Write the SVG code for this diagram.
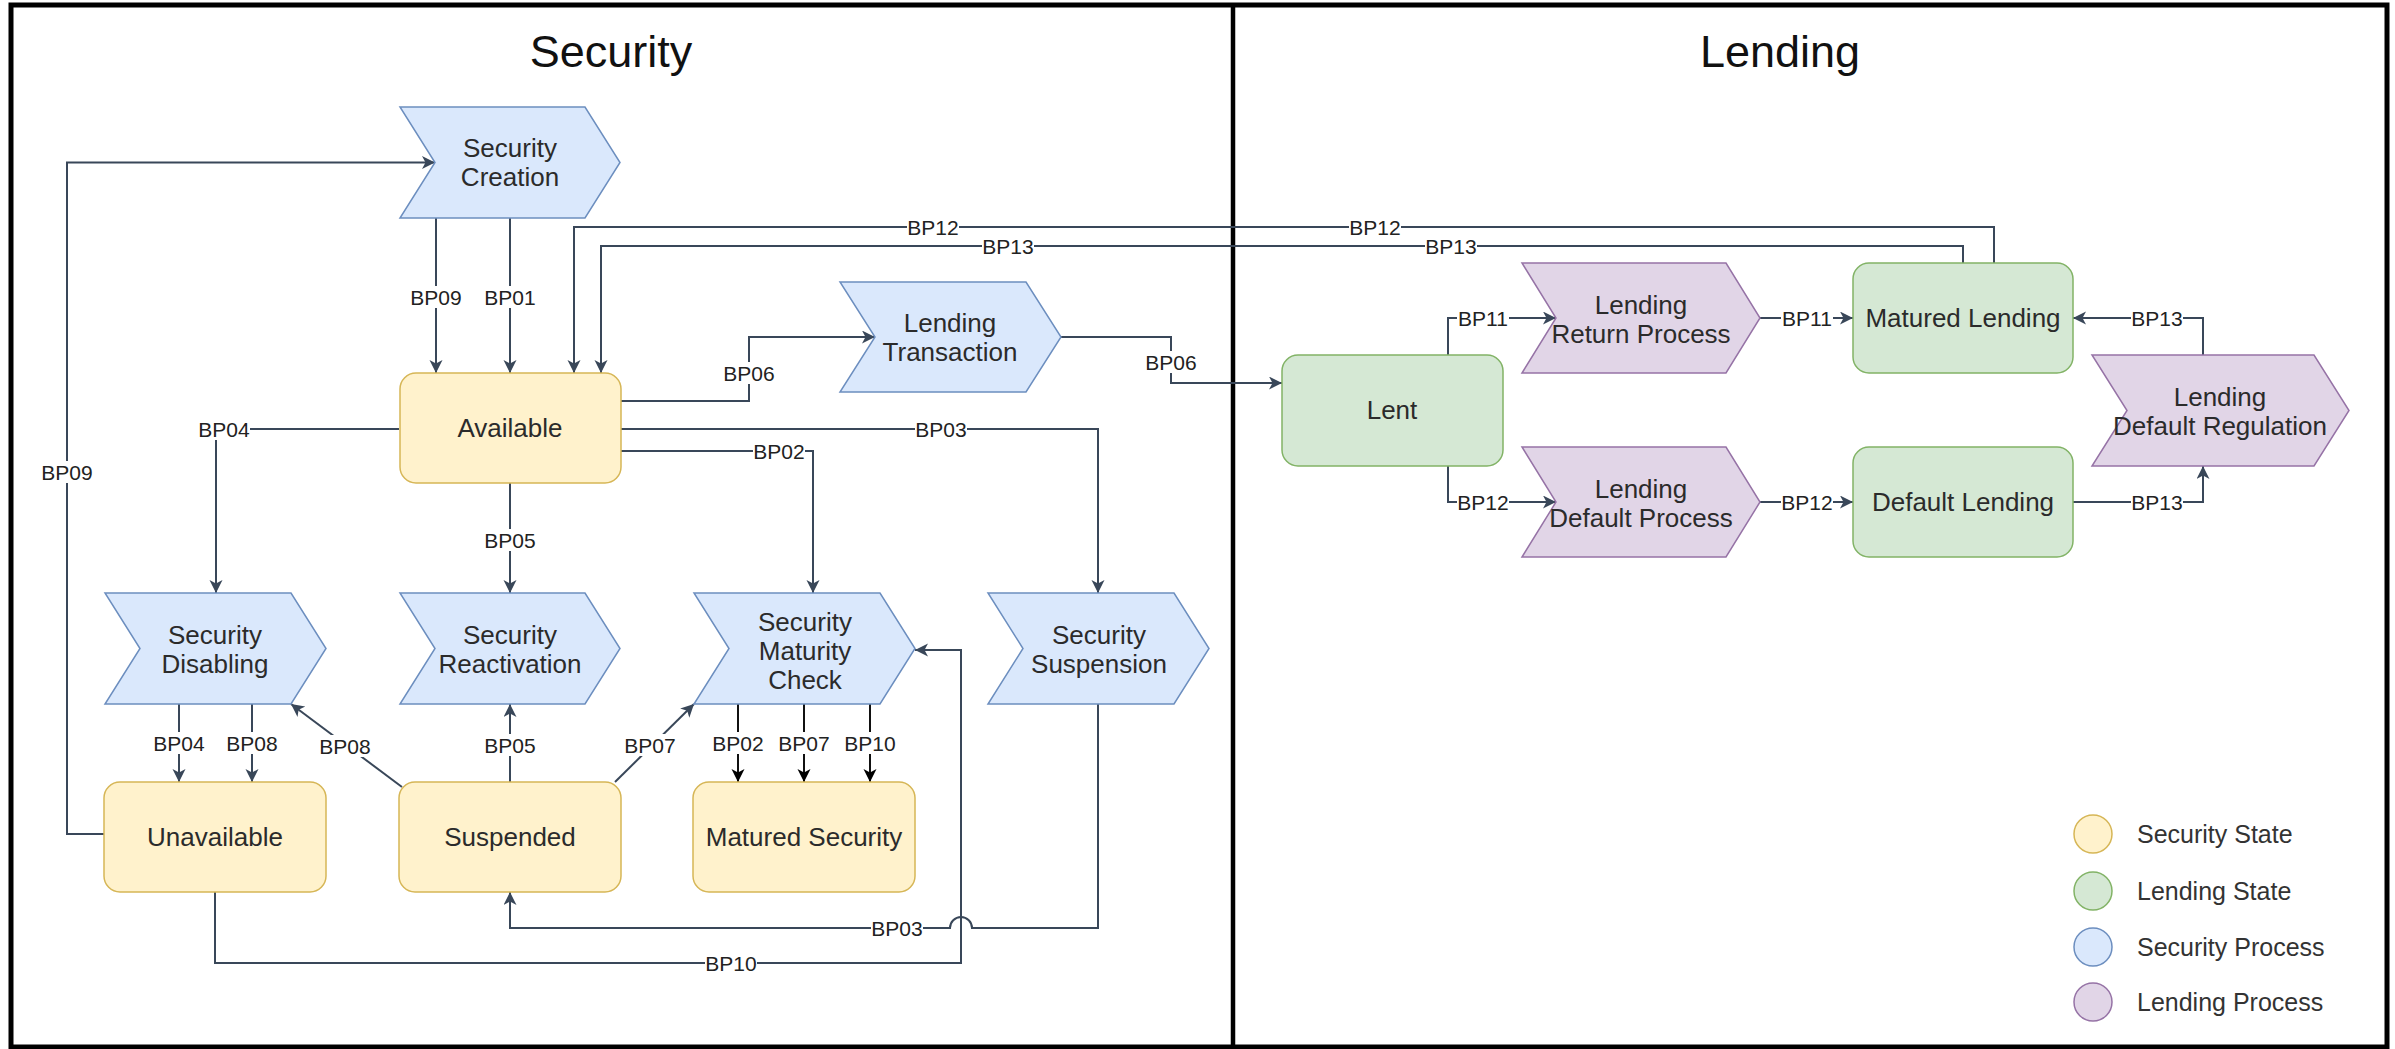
<svg xmlns="http://www.w3.org/2000/svg" width="2395" height="1049" viewBox="0 0 2395 1049">
  <defs>
    <style>
      .frame { fill: none; stroke: #000; stroke-width: 5; }
      .title { font-family: "Liberation Sans", Arial, sans-serif; font-size: 45px; fill: #111; text-anchor: middle; }
      .node-text { font-family: "Liberation Sans", Arial, sans-serif; font-size: 26px; fill: #2b2b2b; text-anchor: middle; }
      .sec-state { fill: #fff2cc; stroke: #d6b656; stroke-width: 1.5; }
      .lend-state { fill: #d5e8d4; stroke: #82b366; stroke-width: 1.5; }
      .sec-proc { fill: #dae8fc; stroke: #6c8ebf; stroke-width: 1.5; }
      .lend-proc { fill: #e1d5e7; stroke: #9673a6; stroke-width: 1.5; }
      .edge { fill: none; stroke: #394759; stroke-width: 2; marker-end: url(#arrow); }
      .edge-dark { fill: none; stroke: #111; stroke-width: 2; marker-end: url(#arrow-dark); }
      .lbg { fill: #fff; }
      .lbl { font-family: "Liberation Sans", Arial, sans-serif; font-size: 21px; fill: #222; text-anchor: middle; }
      .legend-text { font-family: "Liberation Sans", Arial, sans-serif; font-size: 25px; fill: #333; }
    </style>
    <marker id="arrow" markerUnits="userSpaceOnUse" markerWidth="14" markerHeight="14" refX="13" refY="6.5" orient="auto">
      <path d="M0,0 L13,6.5 L0,13 L3.5,6.5 Z" fill="#394759"/>
    </marker>
    <marker id="arrow-dark" markerUnits="userSpaceOnUse" markerWidth="14" markerHeight="14" refX="13" refY="6.5" orient="auto">
      <path d="M0,0 L13,6.5 L0,13 L3.5,6.5 Z" fill="#000"/>
    </marker>
  </defs>

  <rect width="2395" height="1049" fill="#fff"/>

  <!-- swimlane frame -->
  <g id="lanes">
    <rect class="frame" x="11" y="5" width="2376" height="1042"/>
    <line x1="1233" y1="5" x2="1233" y2="1047" stroke="#000" stroke-width="4.5"/>
    <text class="title" x="611" y="67">Security</text>
    <text class="title" x="1780" y="67">Lending</text>
  </g>

  <!-- connectors -->
  <g id="connectors">
    <path class="edge" d="M436,218 V373"/>
    <path class="edge" d="M510,218 V373"/>
    <path class="edge" d="M1994,263 V227 H574 V373"/>
    <path class="edge" d="M1963,263 V246 H601 V373"/>
    <path class="edge" d="M621,401 H749 V337 H875"/>
    <path class="edge" d="M1061,337 H1171 V383 H1282"/>
    <path class="edge" d="M621,429 H1098 V593"/>
    <path class="edge" d="M621,451 H813 V593"/>
    <path class="edge" d="M399,429 H216 V593"/>
    <path class="edge" d="M510,483 V593"/>
    <path class="edge" d="M179,704 V782"/>
    <path class="edge" d="M252,704 V782"/>
    <path class="edge" d="M402,787 L291,704"/>
    <path class="edge" d="M510,782 V704"/>
    <path class="edge" d="M615,782 L694,704"/>
    <path class="edge-dark" d="M738,704 V782"/>
    <path class="edge-dark" d="M804,704 V782"/>
    <path class="edge-dark" d="M870,704 V782"/>
    <path class="edge" d="M1098,704 V928 H972 A11,11 0 0 0 950,928 H510 V892"/>
    <path class="edge" d="M215,892 V963 H961 V650 H915"/>
    <path class="edge" d="M104,834 H67 V162.5 H435"/>
    <path class="edge" d="M1448,355 V318 H1556"/>
    <path class="edge" d="M1760,318 H1853"/>
    <path class="edge" d="M1448,466 V502 H1556"/>
    <path class="edge" d="M1760,502 H1853"/>
    <path class="edge" d="M2073,502 H2203 V466"/>
    <path class="edge" d="M2203,355 V318 H2073"/>

    <!-- connector labels -->
    <g id="edge-labels">
      <rect class="lbg" x="410" y="286" width="52" height="22"/><text class="lbl" x="436" y="304.5">BP09</text>
      <rect class="lbg" x="484" y="286" width="52" height="22"/><text class="lbl" x="510" y="304.5">BP01</text>
      <rect class="lbg" x="907" y="216" width="52" height="22"/><text class="lbl" x="933" y="234.5">BP12</text>
      <rect class="lbg" x="1349" y="216" width="52" height="22"/><text class="lbl" x="1375" y="234.5">BP12</text>
      <rect class="lbg" x="982" y="235" width="52" height="22"/><text class="lbl" x="1008" y="253.5">BP13</text>
      <rect class="lbg" x="1425" y="235" width="52" height="22"/><text class="lbl" x="1451" y="253.5">BP13</text>
      <rect class="lbg" x="723" y="362" width="52" height="22"/><text class="lbl" x="749" y="380.5">BP06</text>
      <rect class="lbg" x="1145" y="351" width="52" height="22"/><text class="lbl" x="1171" y="369.5">BP06</text>
      <rect class="lbg" x="915" y="418" width="52" height="22"/><text class="lbl" x="941" y="436.5">BP03</text>
      <rect class="lbg" x="753" y="440" width="52" height="22"/><text class="lbl" x="779" y="458.5">BP02</text>
      <rect class="lbg" x="198" y="418" width="52" height="22"/><text class="lbl" x="224" y="436.5">BP04</text>
      <rect class="lbg" x="484" y="529" width="52" height="22"/><text class="lbl" x="510" y="547.5">BP05</text>
      <rect class="lbg" x="153" y="732" width="52" height="22"/><text class="lbl" x="179" y="750.5">BP04</text>
      <rect class="lbg" x="226" y="732" width="52" height="22"/><text class="lbl" x="252" y="750.5">BP08</text>
      <rect class="lbg" x="319" y="735" width="52" height="22"/><text class="lbl" x="345" y="753.5">BP08</text>
      <rect class="lbg" x="484" y="734" width="52" height="22"/><text class="lbl" x="510" y="752.5">BP05</text>
      <rect class="lbg" x="624" y="734" width="52" height="22"/><text class="lbl" x="650" y="752.5">BP07</text>
      <rect class="lbg" x="712" y="732" width="52" height="22"/><text class="lbl" x="738" y="750.5">BP02</text>
      <rect class="lbg" x="778" y="732" width="52" height="22"/><text class="lbl" x="804" y="750.5">BP07</text>
      <rect class="lbg" x="844" y="732" width="52" height="22"/><text class="lbl" x="870" y="750.5">BP10</text>
      <rect class="lbg" x="871" y="917" width="52" height="22"/><text class="lbl" x="897" y="935.5">BP03</text>
      <rect class="lbg" x="705" y="952" width="52" height="22"/><text class="lbl" x="731" y="970.5">BP10</text>
      <rect class="lbg" x="41" y="461" width="52" height="22"/><text class="lbl" x="67" y="479.5">BP09</text>
      <rect class="lbg" x="1457" y="307" width="52" height="22"/><text class="lbl" x="1483" y="325.5">BP11</text>
      <rect class="lbg" x="1781" y="307" width="52" height="22"/><text class="lbl" x="1807" y="325.5">BP11</text>
      <rect class="lbg" x="1457" y="491" width="52" height="22"/><text class="lbl" x="1483" y="509.5">BP12</text>
      <rect class="lbg" x="1781" y="491" width="52" height="22"/><text class="lbl" x="1807" y="509.5">BP12</text>
      <rect class="lbg" x="2131" y="491" width="52" height="22"/><text class="lbl" x="2157" y="509.5">BP13</text>
      <rect class="lbg" x="2131" y="307" width="52" height="22"/><text class="lbl" x="2157" y="325.5">BP13</text>
    </g>
  </g>

  <!-- security lane nodes -->
  <g id="security-creation">
    <path class="sec-proc" d="M400,107 L585,107 L620,162.5 L585,218 L400,218 L435,162.5 Z"/>
    <text class="node-text" x="510" y="157">Security</text>
    <text class="node-text" x="510" y="186">Creation</text>
  </g>
  <g id="available">
    <rect class="sec-state" x="400" y="373" width="221" height="110" rx="16"/>
    <text class="node-text" x="510" y="437">Available</text>
  </g>
  <g id="lending-transaction">
    <path class="sec-proc" d="M840,282 L1026,282 L1061,337 L1026,392 L840,392 L875,337 Z"/>
    <text class="node-text" x="950" y="332">Lending</text>
    <text class="node-text" x="950" y="361">Transaction</text>
  </g>
  <g id="security-disabling">
    <path class="sec-proc" d="M105,593 L291,593 L326,648.5 L291,704 L105,704 L140,648.5 Z"/>
    <text class="node-text" x="215" y="644">Security</text>
    <text class="node-text" x="215" y="673">Disabling</text>
  </g>
  <g id="security-reactivation">
    <path class="sec-proc" d="M400,593 L585,593 L620,648.5 L585,704 L400,704 L435,648.5 Z"/>
    <text class="node-text" x="510" y="644">Security</text>
    <text class="node-text" x="510" y="673">Reactivation</text>
  </g>
  <g id="security-maturity-check">
    <path class="sec-proc" d="M694,593 L880,593 L915,648.5 L880,704 L694,704 L729,648.5 Z"/>
    <text class="node-text" x="805" y="631">Security</text>
    <text class="node-text" x="805" y="660">Maturity</text>
    <text class="node-text" x="805" y="689">Check</text>
  </g>
  <g id="security-suspension">
    <path class="sec-proc" d="M988,593 L1174,593 L1209,648.5 L1174,704 L988,704 L1023,648.5 Z"/>
    <text class="node-text" x="1099" y="644">Security</text>
    <text class="node-text" x="1099" y="673">Suspension</text>
  </g>
  <g id="unavailable">
    <rect class="sec-state" x="104" y="782" width="222" height="110" rx="16"/>
    <text class="node-text" x="215" y="846">Unavailable</text>
  </g>
  <g id="suspended">
    <rect class="sec-state" x="399" y="782" width="222" height="110" rx="16"/>
    <text class="node-text" x="510" y="846">Suspended</text>
  </g>
  <g id="matured-security">
    <rect class="sec-state" x="693" y="782" width="222" height="110" rx="16"/>
    <text class="node-text" x="804" y="846">Matured Security</text>
  </g>

  <!-- lending lane nodes -->
  <g id="lent">
    <rect class="lend-state" x="1282" y="355" width="221" height="111" rx="16"/>
    <text class="node-text" x="1392" y="419">Lent</text>
  </g>
  <g id="lending-return-process">
    <path class="lend-proc" d="M1522,263 L1726,263 L1760,318 L1726,373 L1522,373 L1556,318 Z"/>
    <text class="node-text" x="1641" y="314">Lending</text>
    <text class="node-text" x="1641" y="343">Return Process</text>
  </g>
  <g id="lending-default-process">
    <path class="lend-proc" d="M1522,447 L1726,447 L1760,502 L1726,557 L1522,557 L1556,502 Z"/>
    <text class="node-text" x="1641" y="498">Lending</text>
    <text class="node-text" x="1641" y="527">Default Process</text>
  </g>
  <g id="matured-lending">
    <rect class="lend-state" x="1853" y="263" width="220" height="110" rx="16"/>
    <text class="node-text" x="1963" y="327">Matured Lending</text>
  </g>
  <g id="default-lending">
    <rect class="lend-state" x="1853" y="447" width="220" height="110" rx="16"/>
    <text class="node-text" x="1963" y="511">Default Lending</text>
  </g>
  <g id="lending-default-regulation">
    <path class="lend-proc" d="M2092,355 L2314,355 L2349,410.5 L2314,466 L2092,466 L2127,410.5 Z"/>
    <text class="node-text" x="2220" y="406">Lending</text>
    <text class="node-text" x="2220" y="435">Default Regulation</text>
  </g>

  <!-- legend -->
  <g id="legend">
    <circle class="sec-state" cx="2093" cy="834" r="19"/>
    <text class="legend-text" x="2137" y="843">Security State</text>
    <circle class="lend-state" cx="2093" cy="891" r="19"/>
    <text class="legend-text" x="2137" y="900">Lending State</text>
    <circle class="sec-proc" cx="2093" cy="947" r="19"/>
    <text class="legend-text" x="2137" y="956">Security Process</text>
    <circle class="lend-proc" cx="2093" cy="1002" r="19"/>
    <text class="legend-text" x="2137" y="1011">Lending Process</text>
  </g>
</svg>
